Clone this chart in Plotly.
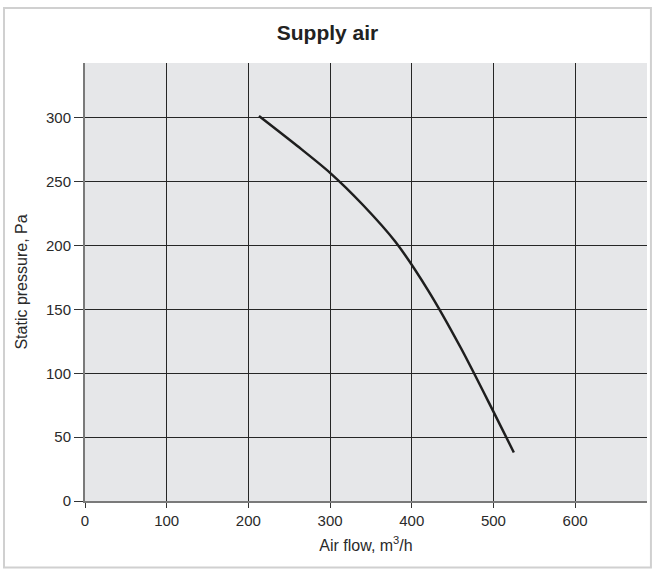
import plotly.graph_objects as go

air_flow = [213, 260, 300, 340, 380, 420, 460, 500, 525]
pressure = [301.5, 278, 257, 232, 203, 165, 120, 70, 38]

x_ticks = [0, 100, 200, 300, 400, 500, 600]
y_ticks = [0, 50, 100, 150, 200, 250, 300]

fig = go.Figure()
fig.add_trace(go.Scatter(
    x=air_flow, y=pressure, mode="lines",
    line=dict(color="#1e1e1e", width=2.5, shape="spline", smoothing=0.8),
    hoverinfo="skip", showlegend=False,
))

fig.update_layout(
    width=655, height=571,
    margin=dict(l=85, r=8, t=63, b=70),
    paper_bgcolor="white",
    plot_bgcolor="#e6e7e9",
    font=dict(family="Liberation Sans, Arial, sans-serif", color="#2a2a2a"),
    title=dict(text="<b>Supply air</b>", x=0.5, xref="container", xanchor="center",
               y=1 - 33 / 571, yanchor="middle",
               font=dict(size=21, color="#222")),
    shapes=[dict(type="rect", xref="paper", yref="paper",
                 x0=-0.1441, x1=1.007, y0=-0.152, y1=1.1256,
                 line=dict(color="#d0d0d0", width=2), layer="below")],
)

fig.update_xaxes(
    range=[0, 688], tickvals=x_ticks, ticktext=[str(v) for v in x_ticks],
    showgrid=True, gridcolor="#262626", gridwidth=1,
    zeroline=False, showline=True, linecolor="#7a7a7a", linewidth=2,
    ticks="outside", ticklen=5, tickcolor="#333", tickwidth=1,
    tickfont=dict(size=15, color="#2a2a2a"),
    title=dict(text="Air flow, m<sup>3</sup>/h", font=dict(size=16, color="#2a2a2a"), standoff=12),
    fixedrange=True,
)
fig.update_yaxes(
    range=[0, 343], tickvals=y_ticks, ticktext=[str(v) for v in y_ticks],
    showgrid=True, gridcolor="#262626", gridwidth=1,
    zeroline=False, showline=True, linecolor="#7a7a7a", linewidth=2,
    ticks="outside", ticklen=9, tickcolor="#333", tickwidth=1,
    tickfont=dict(size=15, color="#2a2a2a"),
    title=dict(text="Static pressure, Pa", font=dict(size=16, color="#2a2a2a"), standoff=14),
    fixedrange=True,
)

fig.write_html("out.html", config={"displayModeBar": False},
               post_script="document.body.style.margin='0';")
